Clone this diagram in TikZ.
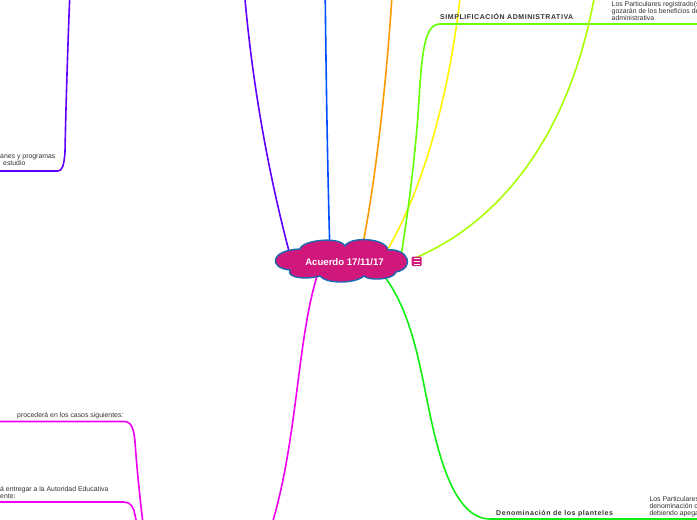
\documentclass[tikz,border=0pt]{standalone}
\usepackage{fontspec}
\setmainfont{Liberation Sans}
\definecolor{cpurple}{HTML}{6000FF}
\definecolor{cblue}{HTML}{0050FF}
\definecolor{corange}{HTML}{FF9900}
\definecolor{cgreentop}{HTML}{66FF00}
\definecolor{cyellow}{HTML}{FFF500}
\definecolor{cyg}{HTML}{AAFF00}
\definecolor{cmag}{HTML}{F000F0}
\definecolor{cgreenbot}{HTML}{11EE11}
\definecolor{cloudfill}{HTML}{D0177C}
\definecolor{cloudline}{HTML}{1B6BB0}
\definecolor{txt}{HTML}{333333}
\tikzset{
  branch/.style={line width=1.6pt, line cap=round},
  lbl/.style={font=\fontsize{6.9}{7}\selectfont, text=txt, inner sep=0pt, align=left},
  lblb/.style={font=\fontsize{7}{7}\selectfont\bfseries\addfontfeatures{LetterSpace=8}, text=txt, inner sep=0pt},
}
\begin{document}
\begin{tikzpicture}[x=1pt,y=-1pt]
\useasboundingbox (0,0) rectangle (697,520);
\clip (0,0) rectangle (697,520);
\fill[white] (0,0) rectangle (697,520);

% named coordinates (branch ends)
\coordinate (pS) at (290,255);  \coordinate (pE) at (240,-80);
\coordinate (bS) at (330,255);  \coordinate (bE) at (325,-20);
\coordinate (oS) at (360,258);  \coordinate (oE) at (395,-60);
\coordinate (gS) at (400,262);  \coordinate (gM) at (419,100); \coordinate (gC) at (440,24); \coordinate (gE) at (705,24);
\coordinate (yS) at (380,262);  \coordinate (yE) at (462,-20);
\coordinate (ygS) at (415,258); \coordinate (ygE) at (600,-40);
\coordinate (mS) at (322,262);  \coordinate (mE) at (265,545);
\coordinate (nS) at (378,268);  \coordinate (nM) at (425,390); \coordinate (nC) at (490,519); \coordinate (nE) at (705,519);
\coordinate (m1S) at (-5,421.5); \coordinate (m1C) at (124,421.5); \coordinate (m1E) at (145,540);
\coordinate (m2S) at (-5,502);   \coordinate (m2C) at (124,502);   \coordinate (m2E) at (140,540);
\coordinate (p1S) at (-5,171);   \coordinate (p1C) at (58,171);    \coordinate (p1E) at (70,-10);

% branches
\draw[branch, cpurple] (pS) .. controls (270,180) and (245,60) .. (pE);
\draw[branch, cblue] (bS) .. controls (327,150) and (326,60) .. (bE);
\draw[branch, corange] (oS) .. controls (375,190) and (390,60) .. (oE);
\draw[branch, cyellow] (yS) .. controls (420,200) and (450,100) .. (yE);
\draw[branch, cgreentop] (gS) .. controls (408,215) and (416,150) .. (gM)
   .. controls (422,50) and (425,24) .. (gC) -- (gE);
\draw[branch, cyg] (ygS) .. controls (470,235) and (575,165) .. (ygE);
\draw[branch, cmag] (mS) .. controls (295,330) and (300,450) .. (mE);
\draw[branch, cgreenbot] (nS) .. controls (405,300) and (415,340) .. (nM)
   .. controls (435,440) and (450,519) .. (nC) -- (nE);

% sub-branches
\draw[branch, cmag] (m1S) -- (m1C) .. controls (132,421.5) and (134,430) .. (135,442)
   .. controls (137,470) and (140,500) .. (m1E);
\draw[branch, cmag] (m2S) -- (m2C) .. controls (131,502) and (134,508) .. (135,515)
   .. controls (137,525) and (139,532) .. (m2E);
\draw[branch, cpurple] (p1S) -- (p1C) .. controls (62,171) and (64,166) .. (65,152)
   .. controls (66,100) and (68,40) .. (p1E);

% central cloud
\filldraw[fill=cloudfill, draw=cloudline, line width=1.4pt]
  (300,249)
  .. controls (302,240) and (340,236) .. (345,246)
  .. controls (350,236) and (386,238) .. (388,250)
  .. controls (408,248) and (416,268) .. (396,272)
  .. controls (394,280) and (368,281) .. (364,276)
  .. controls (355,284) and (326,284) .. (320,276)
  .. controls (306,280) and (286,278) .. (290,270)
  .. controls (268,268) and (270,250) .. (300,249) -- cycle;
\node[font=\fontsize{9.6}{10}\selectfont\bfseries, text=white, inner sep=0pt] (root) at (344.5,262) {Acuerdo 17/11/17};

% menu icon
\node[fill=cloudfill, rounded corners=1.2pt, minimum width=10pt, minimum height=9.5pt, inner sep=0pt] (menu) at (416.7,261.3) {};
\foreach \yy in {258.7,261.3,263.9}
  \draw[white, line width=0.7pt] ([xshift=-3pt]menu.center |- 0,\yy) -- ([xshift=3pt]menu.center |- 0,\yy);

% labels (anchor = baseline of the last line)
\node[lblb, anchor=base west] (simp) at (440,19.5) {SIMPLIFICACIÓN ADMINISTRATIVA};
\node[lbl, anchor=base west] (t1) at (611.5,20.5) {Los Particulares registrado(s)\\gozarán de los beneficios de\\administrativa};
\node[lblb, anchor=base west] (den) at (496,515.5) {Denominación de los planteles};
\node[lbl, anchor=base west] (t2) at (649.3,515.5) {Los Particulares\\denominación c\\debiendo apega};
\node[lbl, anchor=base west] (t3) at (17,417) {procederá en los casos siguientes:};
\node[lbl, anchor=base west] (t4) at (0,498) {á entregar a la Autoridad Educativa\\ente:};
\node[lbl, anchor=base west] (t5) at (0,165.5) {anes y programas\\\hspace*{3pt}estudio};
\end{tikzpicture}
\end{document}
